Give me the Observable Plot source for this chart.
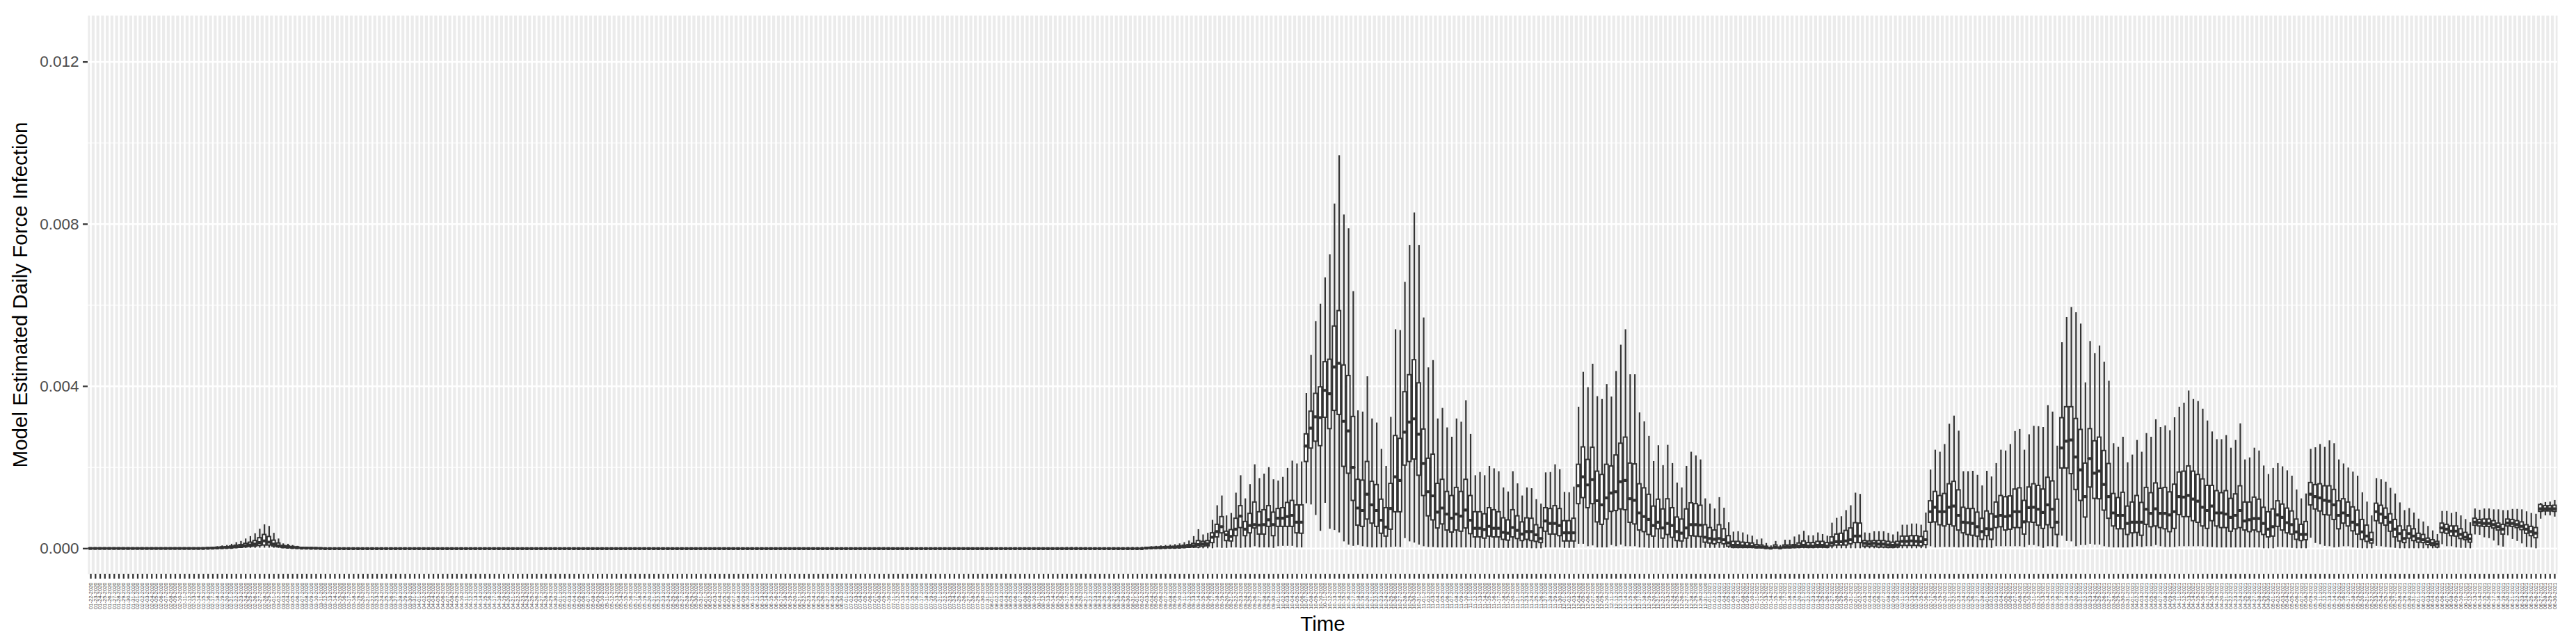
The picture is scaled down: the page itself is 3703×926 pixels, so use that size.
<!DOCTYPE html>
<html>
<head>
<meta charset="utf-8">
<style>html,body{margin:0;padding:0;background:#fff}svg{display:block}</style>
<script src="https://cdn.jsdelivr.net/npm/d3@7"></script>
<script src="https://cdn.jsdelivr.net/npm/@observablehq/plot@0.6"></script>
</head>
<body>
<div id="chart"></div>
<script>
const firstWaveHigh = [.1,.1,.1,.1,.1,.1,.1,.1,.1,.1,.1,.1,.1,.1,.1,.1,.1,.1,.1,.1,.1,.1,.1,.1,
  .15,.25,.35,.5,.7,.8,1.1,1.5,1.8,2.4,3,3.7,4.8,5.9,5.5,3.8,2.4,1.2,1.1,.8,.6,.4,.35,.3,.2,.15];
const firstWaveQ3 = [.05,.05,.05,.05,.05,.05,.05,.05,.05,.05,.05,.05,.05,.05,.05,.05,.05,.05,.05,.05,.05,.05,.05,.05,
  .08,.12,.18,.25,.35,.4,.55,.75,.9,1.2,1.5,1.9,2.6,3.4,2.9,2,1.3,.7,.6,.45,.35,.2,.18,.15,.1,.08];
const firstWaveMedian = [.03,.03,.03,.03,.03,.03,.03,.03,.03,.03,.03,.03,.03,.03,.03,.03,.03,.03,.03,.03,.03,.03,.03,.03,
  .05,.08,.1,.15,.2,.25,.3,.4,.5,.7,.9,1.1,1.5,1.9,1.6,1.1,.7,.4,.35,.25,.2,.12,.1,.08,.06,.05];
const firstWaveQ1 = [.02,.02,.02,.02,.02,.02,.02,.02,.02,.02,.02,.02,.02,.02,.02,.02,.02,.02,.02,.02,.02,.02,.02,.02,
  .03,.05,.06,.08,.1,.12,.15,.2,.25,.35,.45,.55,.7,.8,.8,.55,.35,.2,.18,.12,.1,.06,.05,.04,.03,.02];
const firstWaveLow = [0,0,0,0,0,0,0,0,0,0,0,0,0,0,0,0,0,0,0,0,0,0,0,0,
  .01,.02,.03,.03,.04,.05,.05,.06,.08,.1,.12,.12,.15,.15,.15,.12,.1,.06,.05,.04,.03,.02,.02,.01,.01,.01];

// 175 quiet days between the two active periods
const quietHigh = [
  .1,.1,.1,.1,.1,.1,.1,.1,.1,.1,.1,.1,.1,.1,.1,.1,.1,.1,.1,.1,.1,.1,.1,.1,.1,
  .1,.1,.1,.1,.1,.1,.1,.1,.1,.1,.1,.1,.1,.1,.1,.1,.1,.1,.1,.1,.1,.1,.1,.1,.1,
  .1,.1,.1,.1,.1,.1,.1,.1,.1,.1,.1,.1,.1,.1,.1,.1,.1,.1,.1,.1,.1,.1,.1,.1,.1,
  .1,.1,.1,.1,.1,.1,.1,.1,.1,.1,.1,.1,.1,.1,.1,.1,.1,.1,.1,.1,.1,.1,.1,.1,.1,
  .1,.1,.1,.1,.1,.1,.1,.1,.1,.1,.12,.12,.12,.15,.15,.15,.2,.2,.25,.25,.25,.2,.2,.15,.15,
  .12,.12,.12,.1,.1,.1,.1,.1,.1,.1,.1,.1,.1,.1,.1,.1,.1,.1,.1,.1,.1,.1,.1,.1,.1,
  .12,.12,.15,.15,.2,.2,.25,.25,.3,.3,.3,.25,.25,.2,.2,.2,.2,.2,.25,.25,.25,.3,.3,.3,.35];
const quietBox = [
  0,0,0,0,0,0,0,0,0,0,0,0,0,0,0,0,0,0,0,0,0,0,0,0,0,
  0,0,0,0,0,0,0,0,0,0,0,0,0,0,0,0,0,0,0,0,0,0,0,0,0,
  0,0,0,0,0,0,0,0,0,0,0,0,0,0,0,0,0,0,0,0,0,0,0,0,0,
  0,0,0,0,0,0,0,0,0,0,0,0,0,0,0,0,0,0,0,0,0,0,0,0,0,
  0,0,0,0,0,0,0,0,0,0,0,0,0,0,0,0,0,0,0,0,0,0,0,0,0,
  0,0,0,0,0,0,0,0,0,0,0,0,0,0,0,0,0,0,0,0,0,0,0,0,0,
  0,0,0,0,0,0,0,0,0,0,0,0,0,0,0,0,0,0,0,0,0,0,0,0,0];

const activeHigh = [.4,.5,.6,.7,.8,
  .9,1,1.2,1.5,1.9,3,4.7,3.4,3.8,7,
  10.6,13,8.1,8.7,13.7,18,12.3,15.8,20.7,17.3,
  18.4,20,17,16.7,17.6,19.8,21.6,20.9,21.4,38.3,
  47.7,56,60.3,66.8,72.5,85,96.9,82.3,78.9,63.4,
  34,33.7,42.4,32,31,24.5,20.3,32.4,54,53.8,
  65.7,74.8,82.8,74.8,56.9,44.6,46.4,32,34.6,29.8,
  27.5,32,31.2,36.5,28.2,18,18.8,18,20.3,19.7,
  19,15,14,19,16,13,15,14.8,12.1,11,
  18.7,18.8,20.7,19.5,13.9,13.8,15.2,34.9,43.5,39.7,
  45.5,37.5,36.8,40.5,37.4,43.7,50.2,54,42.9,42.9,
  33.5,31.3,27.7,21.5,25.4,20.5,25.5,21,16.2,15,
  20.3,23.8,22.9,21.9,12.3,11,9.8,12.6,10,6.4,
  4.1,4.2,3.9,3.4,3.1,2.2,2.4,1.3,.7,1.8,
  .8,2.1,2.1,2.9,3.4,4.3,3.2,3.2,3.9,3.5,
  3.1,6.3,7.5,7.9,9.4,10.6,13.7,13.4,3.9,3.8,
  4.2,4.2,4.2,3.8,3.4,4.1,5.8,5.8,6.1,6.1,
  5.8,8.8,19.4,24.3,23.8,25.7,30.7,32.7,29,19,
  19,19.1,18.1,15.5,19.1,17.7,21,24.3,24.1,25.7,
  28.9,29.4,24.3,28.1,30.2,30.1,29.9,35.3,33.7,25.3,
  50.8,57,59.5,58.2,55.4,40.9,51.1,48.1,50,46,
  41.3,25.9,25,27.5,21.2,23.1,26.7,23.8,28.4,27.5,
  31.8,29.9,30.3,29.1,32.3,34.9,35.9,38.9,36.8,36.3,
  34.4,31.5,28.8,26.9,26.9,27.9,24.8,26.7,30.8,21.9,
  22.4,24.8,24.1,20.4,18.3,19.8,21,20.2,19.2,17.9,
  14.5,12.3,13.5,24.5,24.9,25.7,25,26.6,25.9,21.9,
  20.9,19.9,18.9,17.9,13.8,11.5,8.1,17.3,17,16.4,
  14.9,13.5,11.3,9.4,9.9,8.8,7.3,6.6,5.5,4.4,
  3.5,9.2,9.2,8.7,9,8.1,7.2,6.4,9.8,9.5,
  9.8,9.8,9.6,9.6,9.4,9.4,9.7,9.7,9.6,9.1,
  8.7,8.5,11.2,11.4,11.5,11.9];
const activeQ3 = [.2,.25,.3,.35,.4,
  .45,.5,.6,.75,.9,1.2,1.9,1.7,1.9,3.8,
  5.9,7.8,4.2,4.6,7.4,10.5,6.6,8.6,11.4,9,
  9.5,10.5,8.9,9.8,10,11.3,11.8,10.7,10.7,28.2,
  33.8,38.2,39.8,46,46.6,54.8,58.6,45.2,42.6,32.5,
  17,16.8,21.4,16.5,15.7,12.1,10,16,27.8,27.1,
  38.6,42.8,46.5,40.8,29.4,22.2,23.2,16,17,14,
  13,15,14,17,13,9,9,8.5,10,9.5,
  9,7.5,7,9.5,8,6.5,7.5,7.4,5.8,5.1,
  10,9.8,10.5,9.8,6.8,6.8,7.4,20.7,25,21.9,
  24.9,19,18.2,20.7,20.3,23,25.9,27.4,21,20.8,
  15.9,14.9,13.3,10.4,12.1,9.7,12.2,10,7.7,7.2,
  9.7,11.2,11,10.6,5.8,5.1,4.5,5.8,4.8,3.1,
  1.7,1.7,1.5,1.4,1.3,.9,.8,.5,.2,.8,
  .3,.8,.8,.9,1.3,1.8,1.4,1.4,1.7,1.7,
  1.4,2.8,3.5,3.7,4.4,5,6.3,6.2,1.9,1.8,
  1.9,1.9,1.9,1.7,1.5,1.7,3,3,3.1,3.1,
  2.9,4.2,11.7,14,13,13.5,15.9,16.5,14.4,10.1,
  9.8,9.8,8.9,7.4,9.2,8.5,11.4,13,12.7,12.9,
  14.6,14.9,11.8,15.1,15.9,15.5,14.6,17.5,16.6,12.1,
  32.2,34.9,34.9,32,29.3,21,29.5,26.5,27.4,24.1,
  20.9,13.5,12.5,13.8,10.4,11.4,13,11.3,15,13.7,
  16.1,14.8,15,13.9,15.8,18.8,19,20.3,19,18.2,
  17.1,15.5,15.5,14.2,13.7,14.2,12.3,13.4,15.4,11.4,
  11.4,12.6,12.1,10.1,9,9.7,11.7,10.9,9.9,9.2,
  7.2,5.9,6.6,16.2,15.7,15.9,15.4,15.4,14.5,11.7,
  12.2,11.4,10.2,9.4,7.1,5.7,3.9,11.1,10.6,9.9,
  8.5,7.1,5.5,4.5,5.5,4.8,3.7,3.4,2.5,2.1,
  1.7,6.2,5.9,5.5,5.5,4.8,3.9,3.4,7.4,7.1,
  7.2,7.2,6.8,6.2,5.9,7.2,7.1,6.8,6.5,5.8,
  5.4,5.1,10.8,10.5,10.5,10.6];
const activeMedian = [.12,.15,.18,.2,.25,
  .3,.3,.35,.4,.5,.7,1,1.1,1.2,2.8,
  4.2,5.4,3.4,3,4.8,8,4.8,5.7,5.9,5.8,
  5.9,7.1,5.9,7.5,7.5,7.9,8.2,6.5,6.5,25.3,
  29.7,32.5,32.3,39,38.2,44.8,45.7,31.4,29,20,
  10,9.4,13.4,10.8,9.4,7,5.3,9.9,17.7,16.8,
  28.7,31.2,32,28.2,21,14,13,9,10,8.5,
  7.5,8.5,8,9.5,7,5,5,4.7,5.5,5,
  5,4,3.8,5.2,4.5,3.6,4.2,4.2,3.4,2.5,
  6.8,6.2,6.2,5.7,3.9,3.9,3.9,15.5,17.7,15.7,
  17,11.8,10.8,12.5,13.7,14,16.5,16.8,12.3,11.9,
  8.8,7.9,7.2,5.7,6.5,5.1,6.2,5.7,4.2,3.8,
  5.1,5.9,5.9,5.8,2.8,2.5,2.3,2.5,2.2,1.4,
  .8,.8,.7,.6,.5,.4,.4,.2,.1,.3,
  .15,.4,.4,.5,.6,.8,.6,.6,.8,.8,
  .6,1.4,1.7,1.7,1.9,2.2,3.1,3.1,1.3,1.2,
  1.3,1.1,1.1,.9,.8,.9,1.8,1.8,1.9,1.8,
  1.7,2.2,9.1,10.2,9.1,9.1,10.2,10.5,8.2,6.5,
  6.4,6.2,5.4,4.2,4.9,4.8,7.9,8.2,7.9,8.1,
  9.1,9.1,6.6,10.1,10.2,9.7,8.9,10.8,9.7,6.5,
  24.8,26.5,26.8,22.6,19.4,12.8,22.2,18.6,19.1,15.8,
  12.8,8.8,8.2,8.2,6.2,6.5,6.5,6.5,9.7,8.7,
  9.8,8.7,8.7,8.3,9.1,12.8,12.7,13.1,12.2,11.7,
  10.2,9.4,10.5,8.8,8.8,8.5,7.7,8.2,9.4,6.8,
  7.1,7.4,7.4,6.2,4.8,5.4,8.3,7.7,6.4,5.9,
  4.1,3.5,3.5,13.4,12.8,12.5,11.9,11.7,10.8,8.2,
  8.8,8.2,6.5,5.9,4.1,3.1,2.2,9.1,8.5,7.7,
  6.5,4.8,3.7,2.5,3.7,3.1,2.5,2.2,1.7,1.3,
  1.1,5.1,4.8,4.3,4.3,3.5,2.8,2.4,6.5,6.4,
  6.2,6.2,5.9,5.4,4.8,6.3,6.2,5.9,5.5,4.8,
  4.2,3.8,9.8,9.8,9.8,9.8];
const activeQ1 = [.05,.06,.08,.1,.12,
  .15,.15,.18,.2,.25,.3,.3,.5,.6,1.4,
  2.8,3.8,1.9,1.8,3.1,5.1,3.1,3.8,5,3.5,
  3.5,5.4,3.1,5.4,5.4,5.4,5.4,3.8,3.7,21.4,
  24.7,26.4,25.3,32.3,29.5,34,33,20.2,18.5,11.8,
  5.7,5.4,7.2,6.2,5.4,3.7,3,4.7,9,9,
  20.5,21.4,22,18,13,8,7,5,6,4.5,
  4,4.5,4.2,5,3.6,2.8,2.8,2.5,3,2.8,
  2.8,2.2,2,2.8,2.4,1.9,2.2,1.9,1.7,1.4,
  4.2,3.5,3.5,3.1,1.8,1.8,1.8,11,12.5,10,
  11,6.5,5.9,7.2,9.1,9.3,9.7,9.5,6.4,6,
  4.5,4.1,3.4,3,4.8,2.5,3.4,2.7,1.9,1.8,
  2.5,3.1,3,2.9,1.5,1.3,1.1,1.4,1.1,.5,
  .2,.2,.2,.2,.2,.1,.1,.05,.02,.1,
  .03,.1,.1,.15,.2,.25,.2,.2,.25,.25,
  .2,.6,.8,.8,.8,1.1,1.4,1.4,.5,.5,
  .5,.3,.3,.2,.2,.3,.7,.7,.7,.7,
  .6,.9,6.4,6.5,5.8,5.5,5.9,5.5,4.5,3.8,
  3.4,3.2,3,2.2,3.1,2.2,5.1,5.3,4.5,4.7,
  5.1,5.1,3.5,6.5,6.4,5.7,4.9,5.8,5.1,3.4,
  19.8,19.8,18.4,14.5,11.8,7.7,15.1,12.3,12.2,9.4,
  7.4,5.5,4.8,4.8,3.4,3.8,3.9,3.2,5.9,5.3,
  5.5,5.1,4.8,4.1,4.9,8.3,7.8,7.8,6.8,6.4,
  5.5,4.9,6.8,5.5,5.1,5.1,4.2,4.8,5.1,4.5,
  4.1,4.5,4.1,3.4,2.8,3,5.4,4.5,3.8,3.5,
  2.2,1.9,2.1,10.7,9.7,9.2,8.3,8.2,7.1,4.8,
  6.2,5.5,4.3,3.5,2.2,1.7,1.3,6.8,6.2,5.7,
  4.2,2.8,1.8,1.4,2.5,1.9,1.5,1.4,.9,.7,
  .3,3.9,3.7,3.1,3,2.4,2.1,1.5,5.7,5.5,
  5.4,5.4,5,4.5,3.5,5.5,5.4,5.1,4.6,3.7,
  3.1,2.6,9.1,9.2,9.2,9.1];
const activeLow = [.02,.02,.03,.03,.03,
  .04,.04,.05,.05,.05,.05,0,0,0,0,
  .2,.1,.1,.2,.2,.1,.2,.2,.5,.2,
  .2,.2,.1,.5,.6,.6,.6,.2,.2,11.1,
  10.8,8.2,4.3,11.2,4.8,4.5,3.9,1.7,.9,.6,
  .8,.5,.3,.2,.2,.2,.2,.3,.4,.3,
  2.5,1.7,1.4,.9,.5,.3,.3,.2,.2,.2,
  .2,.2,.2,.2,.2,.1,.1,.1,.1,.1,
  .1,.1,.1,.1,.1,.1,.1,0,0,0,
  .2,.2,.2,.2,.1,.1,.1,1.1,1.1,.5,
  .7,.2,.2,.2,.8,.5,.9,.5,.5,.5,
  .2,.2,.1,.1,.1,.1,.1,.1,.1,.1,
  .1,.1,.1,.1,.1,.1,.1,.1,.1,.1,
  0,0,0,0,0,0,0,0,0,0,
  0,0,0,0,0,0,0,0,0,0,
  0,0,0,0,0,0,0,0,0,0,
  0,0,0,0,0,0,0,0,0,0,
  .02,0,.5,.2,.3,.3,.3,.3,.2,.3,
  .3,.3,.2,.2,.2,.1,.5,.5,.5,.5,
  .5,.5,.3,.8,.8,.5,.1,.5,.5,.2,
  3.1,1.8,1.7,.5,.8,.8,1.1,.9,.9,.5,
  .3,.2,.2,.2,.2,.3,.5,.3,.5,.5,
  .8,.5,.3,.3,.3,.5,.5,.5,.5,.5,
  .5,.3,.3,.2,.2,.2,.2,.2,.2,.2,
  .2,.2,.2,0,0,0,.3,.3,.2,.1,
  0,0,0,2.6,1.3,1,.6,.5,.2,.3,
  .5,.5,.2,.1,0,0,0,.6,.5,.3,
  .2,.1,0,0,0,0,0,0,0,0,
  0,1,.5,.5,.2,.1,.1,0,3.4,3.3,
  2.7,2.5,1.9,.7,.4,3.2,2.3,1.8,1.2,.3,
  .2,0,7.3,8.1,8.1,7.8];

const yTicks = [0, 0.004, 0.008, 0.012];
const yMinor = [0.002, 0.006, 0.01];
const xTitle = "Time";
const yTitle = "Model Estimated Daily Force Infection";
const ink = "#333333";

const high = [...firstWaveHigh, ...quietHigh, ...activeHigh];
const q3 = [...firstWaveQ3, ...quietBox, ...activeQ3];
const median = [...firstWaveMedian, ...quietBox, ...activeMedian];
const q1 = [...firstWaveQ1, ...quietBox, ...activeQ1];
const low = [...firstWaveLow, ...quietBox, ...activeLow];

const fmt = d3.utcFormat("%m-%d-%Y");
const days = high.map((_, i) => fmt(new Date(Date.UTC(2020, 0, 22 + i))));
const rows = days.map((day, i) => ({
  day, hi: high[i] * 1e-4, q3: q3[i] * 1e-4, med: median[i] * 1e-4, q1: q1[i] * 1e-4, lo: low[i] * 1e-4
}));

const chart = Plot.plot({
  width: 3703,
  height: 926,
  marginTop: 22,
  marginBottom: 101,
  marginLeft: 126,
  marginRight: 27,
  style: {fontFamily: "'Liberation Sans', Arial, sans-serif", background: "#fff"},
  x: {type: "band", domain: days, paddingInner: 0.25, paddingOuter: 0.225, axis: null},
  y: {domain: [-0.000629, 0.013142], axis: null},
  marks: [
    Plot.frame({fill: "#EBEBEB", stroke: null}),
    Plot.ruleY(yMinor, {stroke: "#fff", strokeWidth: 1.2}),
    Plot.ruleY(yTicks, {stroke: "#fff", strokeWidth: 2.5}),
    Plot.ruleX(days, {x: d => d, stroke: "#fff", strokeWidth: 2.5}),
    Plot.ruleX(rows, {x: "day", y1: "q3", y2: "hi", stroke: ink, strokeWidth: 2.2}),
    Plot.ruleX(rows, {x: "day", y1: "lo", y2: "q1", stroke: ink, strokeWidth: 2.2}),
    Plot.barY(rows, {x: "day", y1: "q1", y2: "q3", fill: "#fff", stroke: ink, strokeWidth: 2}),
    Plot.tickY(rows, {x: "day", y: "med", stroke: ink, strokeWidth: 4.2, strokeLinecap: "round", insetLeft: 1, insetRight: 1}),
    Plot.axisY({
      ticks: yTicks, tickFormat: d3.format(".3f"), tickSize: 7, tickPadding: 6,
      fontSize: 22.5, fill: "#4D4D4D", stroke: ink, strokeWidth: 2.3, label: null
    }),
    Plot.axisX({
      anchor: "bottom", tickRotate: -90, tickSize: 7, tickPadding: 5,
      fontSize: 7.5, fill: "#404040", stroke: ink, strokeWidth: 2.3, label: null
    }),
    Plot.axisX({
      anchor: "bottom", ticks: [], label: xTitle, labelAnchor: "center", labelArrow: "none",
      labelOffset: 81, fontSize: 29.5, fill: "#000", tickSize: 0
    }),
    Plot.axisY({
      ticks: [], label: yTitle, labelAnchor: "center", labelArrow: "none",
      labelOffset: 108, fontSize: 29.5, fill: "#000", tickSize: 0
    })
  ]
});
document.getElementById("chart").appendChild(chart);
</script>
</body>
</html>
